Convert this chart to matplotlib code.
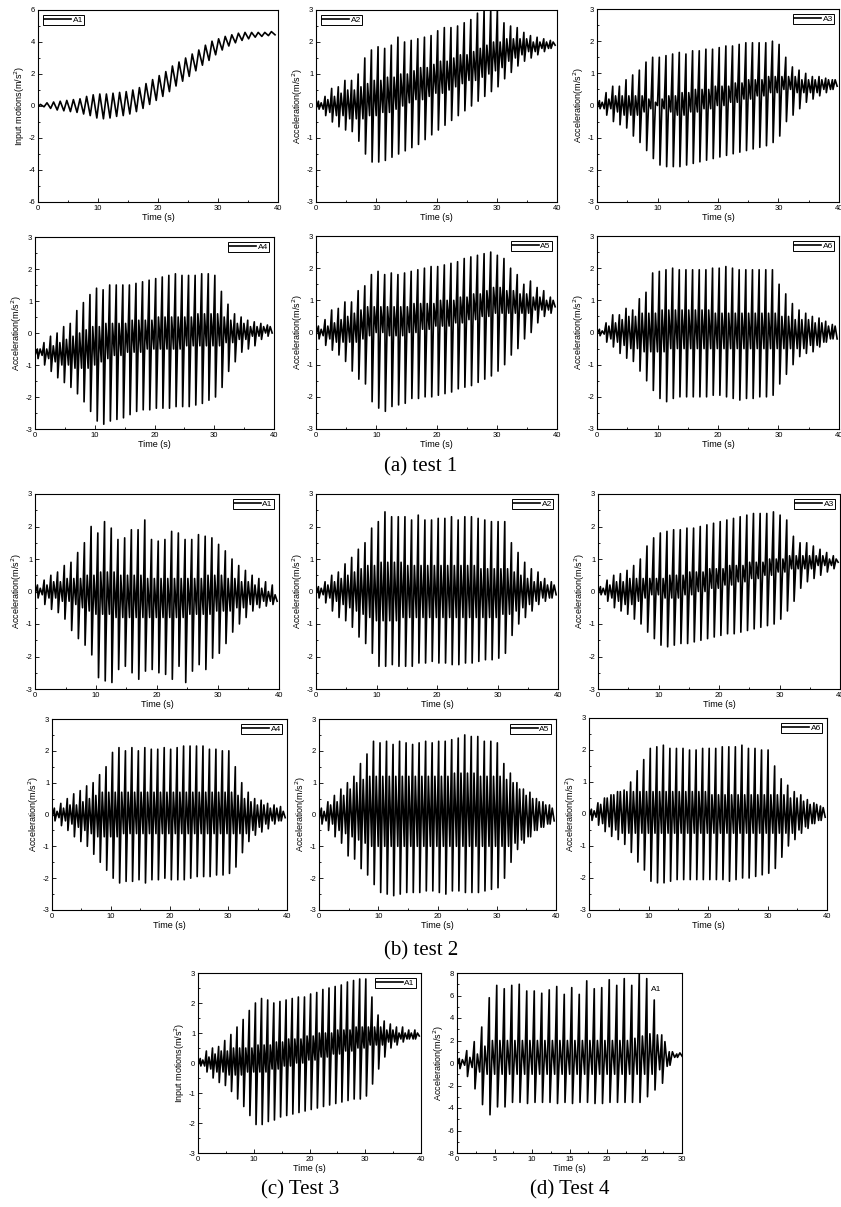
import numpy as np
import matplotlib
matplotlib.use("Agg")
import matplotlib.pyplot as plt
from matplotlib.ticker import MultipleLocator

plt.rcParams['font.family'] = ['Liberation Sans', 'DejaVu Sans']
plt.rcParams['axes.unicode_minus'] = False

# ---------------- data (per-cycle peak values) ----------------
# 40-s records: one cycle every 1.1 s starting at 0.4 s
T40, START40 = 1.1, 0.4
# test 4: one cycle every 1.0 s starting at 0.3 s
T30, START30 = 1.0, 0.3

# test 1, A1 (input motion)
t1a1_hi = [0.1,0.2,0.25,0.3,0.35,0.4,0.45,0.6,0.7,0.75,0.75,0.8,0.85,0.9,1.0,1.15,1.4,1.65,1.9,2.15,2.5,2.75,3.0,3.25,3.5,3.8,4.05,4.2,4.35,4.45,4.55,4.6,4.6,4.6,4.6,4.65]
t1a1_lo = [-0.05,-0.15,-0.25,-0.3,-0.35,-0.4,-0.5,-0.6,-0.75,-0.8,-0.75,-0.65,-0.6,-0.5,-0.35,-0.15,0.1,0.35,0.6,0.9,1.25,1.55,1.85,2.2,2.55,2.85,3.2,3.5,3.75,3.95,4.1,4.2,4.3,4.35,4.4,4.45]

# test 1, A2
t1a2_hi = [0.15,0.3,0.55,0.6,0.8,0.8,1.0,1.5,1.75,1.85,1.8,1.9,2.15,2.0,2.05,2.1,2.15,2.2,2.35,2.45,2.45,2.5,2.6,2.7,2.9,3.0,3.0,3.0,2.6,2.5,2.45,2.3,2.2,2.15,2.1,2.05]
t1a2_lo = [-0.1,-0.3,-0.5,-0.65,-0.75,-0.8,-1.1,-1.5,-1.75,-1.75,-1.7,-1.6,-1.5,-1.4,-1.3,-1.2,-1.05,-0.9,-0.75,-0.6,-0.45,-0.3,-0.15,0.0,0.15,0.3,0.45,0.6,0.85,1.05,1.25,1.4,1.5,1.6,1.7,1.8]
t1a2_ihi = [0.1,0.2,0.3,0.4,0.5,0.5,0.6,0.7,0.8,0.8,0.9,0.9,1.0,1.0,1.1,1.2,1.2,1.3,1.4,1.4,1.5,1.6,1.6,1.7,1.8,1.9,2.0,2.0,2.1,2.1,2.1,2.1,2.0,2.0,2.0,2.0]
t1a2_ilo = [-0.1,-0.2,-0.3,-0.3,-0.4,-0.4,-0.4,-0.3,-0.3,-0.2,-0.2,-0.1,0.0,0.1,0.2,0.2,0.3,0.4,0.4,0.5,0.6,0.7,0.8,0.8,0.9,1.0,1.1,1.2,1.4,1.5,1.6,1.7,1.7,1.8,1.8,1.9]

# test 1, A3
t1a3_hi = [0.15,0.4,0.6,0.6,0.8,0.95,1.1,1.35,1.5,1.5,1.55,1.6,1.65,1.6,1.7,1.7,1.75,1.75,1.8,1.85,1.85,1.9,1.95,1.95,1.95,1.95,2.0,1.9,1.5,1.2,1.1,1.0,0.9,0.9,0.85,0.8]
t1a3_lo = [-0.1,-0.3,-0.5,-0.6,-0.7,-0.95,-1.15,-1.4,-1.65,-1.85,-1.9,-1.9,-1.9,-1.85,-1.8,-1.75,-1.7,-1.65,-1.6,-1.55,-1.5,-1.45,-1.4,-1.35,-1.3,-1.25,-1.15,-0.95,-0.5,-0.3,-0.1,0.1,0.2,0.3,0.4,0.5]
t1a3_ihi = [0.1,0.2,0.3,0.3,0.3,0.3,0.3,0.2,0.1,0.2,0.3,0.3,0.4,0.4,0.5,0.5,0.5,0.6,0.6,0.6,0.7,0.7,0.8,0.8,0.8,0.9,0.9,0.9,0.9,0.9,0.8,0.8,0.8,0.8,0.8,0.8]
t1a3_ilo = [-0.1,-0.1,-0.2,-0.3,-0.3,-0.3,-0.2,-0.1,0.0,-0.1,-0.2,-0.3,-0.3,-0.2,-0.2,-0.1,-0.1,0.0,0.0,0.1,0.1,0.2,0.2,0.3,0.3,0.4,0.4,0.5,0.5,0.4,0.4,0.4,0.4,0.5,0.5,0.6]

# test 1, A4
t1a4_hi = [-0.5,-0.3,-0.1,0.0,0.2,0.3,0.7,0.95,1.2,1.4,1.35,1.5,1.5,1.5,1.5,1.55,1.6,1.65,1.7,1.75,1.8,1.85,1.8,1.8,1.8,1.85,1.85,1.8,1.3,0.9,0.6,0.5,0.4,0.35,0.3,0.25]
t1a4_lo = [-0.8,-1.0,-1.2,-1.4,-1.55,-1.7,-1.9,-2.15,-2.45,-2.75,-2.85,-2.75,-2.7,-2.65,-2.55,-2.45,-2.4,-2.4,-2.35,-2.35,-2.35,-2.3,-2.3,-2.3,-2.25,-2.2,-2.1,-2.0,-1.7,-1.2,-0.9,-0.6,-0.5,-0.4,-0.2,-0.1]
t1a4_ihi = [-0.5,-0.5,-0.4,-0.3,-0.2,-0.1,0.0,0.1,0.2,0.2,0.3,0.3,0.3,0.3,0.4,0.4,0.4,0.4,0.5,0.5,0.5,0.5,0.5,0.5,0.6,0.6,0.6,0.6,0.5,0.4,0.3,0.3,0.2,0.2,0.2,0.2]
t1a4_ilo = [-0.7,-0.8,-0.9,-1.0,-1.0,-1.1,-1.1,-1.1,-1.0,-0.9,-0.8,-0.7,-0.7,-0.6,-0.6,-0.6,-0.5,-0.5,-0.5,-0.5,-0.5,-0.5,-0.4,-0.4,-0.4,-0.4,-0.4,-0.4,-0.3,-0.3,-0.2,-0.2,-0.1,-0.1,0.0,0.0]

# test 1, A5
t1a5_hi = [0.2,0.4,0.7,0.75,0.95,0.95,1.3,1.45,1.8,1.9,1.8,1.85,1.8,1.85,1.9,1.95,2.0,2.05,2.05,2.1,2.15,2.2,2.3,2.35,2.4,2.45,2.5,2.4,2.3,2.0,1.8,1.5,1.6,1.4,1.3,1.1]
t1a5_lo = [-0.2,-0.4,-0.55,-0.7,-0.9,-1.2,-1.45,-1.6,-2.15,-2.35,-2.45,-2.3,-2.25,-2.2,-2.05,-2.05,-2.0,-2.0,-1.95,-1.9,-1.85,-1.75,-1.7,-1.65,-1.55,-1.45,-1.35,-1.2,-1.0,-0.7,-0.5,-0.2,0.0,0.3,0.5,0.6]
t1a5_ihi = [0.1,0.2,0.3,0.4,0.5,0.6,0.7,0.8,0.8,0.8,0.8,0.8,0.8,0.8,0.9,0.9,0.9,0.9,1.0,1.0,1.0,1.1,1.1,1.2,1.2,1.3,1.4,1.4,1.3,1.3,1.2,1.2,1.1,1.1,1.0,1.0]
t1a5_ilo = [-0.1,-0.2,-0.3,-0.3,-0.3,-0.3,-0.2,-0.1,0.0,0.0,-0.1,-0.1,-0.1,0.0,0.0,0.1,0.1,0.2,0.2,0.2,0.3,0.3,0.4,0.4,0.5,0.5,0.6,0.6,0.6,0.6,0.6,0.6,0.7,0.7,0.7,0.8]

# test 1, A6
t1a6_hi = [0.1,0.3,0.55,0.55,0.75,0.7,1.05,1.25,1.85,1.9,1.95,2.0,1.95,1.95,1.95,1.95,1.95,2.0,2.0,2.05,2.0,1.95,1.95,1.95,1.95,1.95,1.95,1.5,1.2,0.9,0.7,0.6,0.5,0.45,0.35,0.25]
t1a6_lo = [-0.1,-0.3,-0.45,-0.65,-0.8,-0.9,-1.2,-1.5,-1.8,-2.05,-2.15,-2.05,-2.0,-2.0,-2.0,-2.0,-2.0,-1.95,-1.95,-2.0,-2.05,-2.1,-2.05,-2.05,-2.0,-2.0,-1.95,-1.6,-1.3,-1.0,-0.75,-0.65,-0.6,-0.45,-0.3,-0.2]
t1a6_ihi = [0.05,0.2,0.3,0.4,0.5,0.5,0.6,0.6,0.6,0.7,0.7,0.7,0.7,0.7,0.7,0.7,0.7,0.6,0.6,0.6,0.6,0.6,0.6,0.6,0.6,0.6,0.6,0.5,0.5,0.4,0.4,0.4,0.3,0.3,0.2,0.2]
t1a6_ilo = [-0.05,-0.2,-0.3,-0.4,-0.5,-0.5,-0.6,-0.6,-0.6,-0.6,-0.5,-0.5,-0.5,-0.5,-0.5,-0.5,-0.5,-0.5,-0.5,-0.5,-0.5,-0.5,-0.5,-0.5,-0.5,-0.5,-0.5,-0.5,-0.5,-0.5,-0.5,-0.4,-0.4,-0.3,-0.2,-0.2]

# test 2, A1
t2a1_hi = [0.2,0.35,0.5,0.6,0.8,0.9,1.2,1.5,2.0,1.8,2.15,1.95,1.6,1.65,1.9,1.9,2.2,1.6,1.55,1.6,1.85,1.8,1.6,1.6,1.75,1.7,1.65,1.45,1.25,1.0,0.8,0.65,0.5,0.4,0.3,0.2]
t2a1_lo = [-0.2,-0.4,-0.55,-0.65,-0.85,-1.2,-1.45,-1.65,-1.95,-2.65,-2.75,-2.8,-2.4,-2.3,-2.5,-2.7,-2.45,-2.4,-2.5,-2.55,-2.7,-2.3,-2.8,-2.45,-2.25,-2.4,-2.05,-1.9,-1.6,-1.25,-1.0,-0.8,-0.6,-0.5,-0.45,-0.4]
t2a1_ihi = [0.1,0.2,0.3,0.3,0.4,0.4,0.4,0.5,0.5,0.6,0.6,0.6,0.5,0.5,0.5,0.5,0.4,0.4,0.4,0.4,0.4,0.4,0.4,0.4,0.4,0.5,0.5,0.5,0.4,0.4,0.3,0.3,0.2,0.1,0.0,-0.1]
t2a1_ilo = [-0.1,-0.2,-0.2,-0.3,-0.3,-0.4,-0.5,-0.6,-0.7,-0.7,-0.7,-0.8,-0.8,-0.8,-0.8,-0.8,-0.8,-0.8,-0.8,-0.8,-0.8,-0.8,-0.7,-0.7,-0.7,-0.7,-0.6,-0.6,-0.6,-0.5,-0.5,-0.4,-0.4,-0.3,-0.3,-0.3]

# test 2, A2
t2a2_hi = [0.15,0.3,0.5,0.6,0.85,1.05,1.3,1.5,1.95,2.15,2.45,2.3,2.3,2.3,2.2,2.35,2.2,2.2,2.25,2.25,2.3,2.2,2.3,2.3,2.25,2.2,2.15,2.15,2.15,1.5,1.2,0.9,0.7,0.6,0.4,0.3]
t2a2_lo = [-0.2,-0.35,-0.6,-0.8,-0.9,-1.1,-1.4,-1.6,-1.9,-2.3,-2.3,-2.25,-2.3,-2.3,-2.3,-2.2,-2.2,-2.15,-2.2,-2.2,-2.25,-2.25,-2.2,-2.2,-2.15,-2.1,-2.1,-2.05,-1.9,-1.35,-1.0,-0.8,-0.6,-0.4,-0.3,-0.2]
t2a2_ihi = [0.1,0.2,0.3,0.4,0.5,0.6,0.7,0.8,0.8,0.9,0.9,0.9,0.9,0.8,0.8,0.8,0.8,0.8,0.8,0.8,0.8,0.8,0.8,0.8,0.7,0.7,0.7,0.7,0.7,0.6,0.5,0.4,0.3,0.3,0.2,0.2]
t2a2_ilo = [-0.1,-0.2,-0.3,-0.4,-0.5,-0.6,-0.7,-0.8,-0.9,-0.9,-0.9,-0.9,-0.8,-0.8,-0.8,-0.8,-0.8,-0.8,-0.8,-0.8,-0.8,-0.8,-0.8,-0.8,-0.8,-0.8,-0.8,-0.7,-0.7,-0.6,-0.5,-0.4,-0.3,-0.2,-0.2,-0.1]

# test 2, A3
t2a3_hi = [0.15,0.35,0.5,0.55,0.65,0.8,1.0,1.4,1.65,1.8,1.85,1.9,1.9,1.95,1.95,2.0,2.05,2.1,2.15,2.2,2.25,2.3,2.35,2.4,2.4,2.4,2.45,2.35,2.2,1.7,1.5,1.5,1.4,1.3,1.2,1.1]
t2a3_lo = [-0.1,-0.3,-0.5,-0.6,-0.7,-0.85,-1.0,-1.25,-1.45,-1.65,-1.7,-1.65,-1.6,-1.6,-1.55,-1.5,-1.45,-1.4,-1.35,-1.3,-1.3,-1.25,-1.2,-1.15,-1.1,-1.05,-1.0,-0.85,-0.6,-0.3,0.1,0.3,0.4,0.5,0.6,0.7]
t2a3_ihi = [0.1,0.2,0.3,0.3,0.4,0.4,0.4,0.4,0.4,0.4,0.5,0.5,0.5,0.6,0.6,0.6,0.7,0.7,0.7,0.8,0.8,0.8,0.9,0.9,0.9,1.0,1.0,1.0,1.1,1.1,1.1,1.1,1.1,1.1,1.0,1.0]
t2a3_ilo = [-0.1,-0.2,-0.3,-0.4,-0.4,-0.3,-0.2,-0.1,-0.1,-0.2,-0.2,-0.2,-0.1,-0.1,0.0,0.0,0.1,0.1,0.2,0.2,0.3,0.3,0.4,0.4,0.5,0.5,0.6,0.6,0.7,0.7,0.7,0.7,0.8,0.8,0.8,0.9]

# test 2, A4
t2a4_hi = [0.2,0.35,0.5,0.65,0.75,0.9,1.0,1.25,1.5,1.95,2.1,2.0,2.1,2.0,2.1,2.05,2.05,2.1,2.05,2.1,2.15,2.15,2.15,2.15,2.05,2.05,2.0,2.0,1.5,1.0,0.7,0.5,0.45,0.35,0.3,0.25]
t2a4_lo = [-0.2,-0.35,-0.5,-0.7,-0.85,-1.0,-1.25,-1.5,-1.75,-2.0,-2.15,-2.1,-2.1,-2.05,-2.15,-2.05,-2.05,-2.0,-2.05,-2.05,-2.05,-2.0,-1.95,-1.95,-1.95,-1.9,-1.9,-1.85,-1.65,-1.2,-0.85,-0.65,-0.55,-0.45,-0.3,-0.2]
t2a4_ihi = [0.1,0.2,0.3,0.3,0.4,0.5,0.6,0.7,0.7,0.7,0.7,0.7,0.7,0.7,0.7,0.7,0.7,0.7,0.7,0.7,0.7,0.7,0.7,0.7,0.7,0.7,0.7,0.7,0.6,0.5,0.4,0.3,0.3,0.2,0.2,0.1]
t2a4_ilo = [-0.1,-0.2,-0.3,-0.4,-0.5,-0.6,-0.7,-0.7,-0.7,-0.7,-0.6,-0.6,-0.6,-0.6,-0.6,-0.6,-0.6,-0.6,-0.6,-0.6,-0.6,-0.6,-0.6,-0.6,-0.6,-0.6,-0.6,-0.6,-0.6,-0.6,-0.5,-0.4,-0.3,-0.2,-0.2,-0.1]

# test 2, A5
t2a5_hi = [0.2,0.4,0.6,0.8,1.0,1.2,1.6,1.9,2.3,2.25,2.3,2.2,2.3,2.25,2.2,2.25,2.3,2.25,2.3,2.3,2.35,2.4,2.5,2.45,2.45,2.3,2.3,2.25,1.6,1.3,1.0,0.8,0.7,0.5,0.4,0.3]
t2a5_lo = [-0.3,-0.5,-0.7,-0.9,-1.3,-1.4,-1.7,-1.9,-2.2,-2.45,-2.5,-2.55,-2.5,-2.45,-2.45,-2.45,-2.4,-2.4,-2.45,-2.5,-2.4,-2.4,-2.45,-2.45,-2.45,-2.4,-2.35,-2.3,-2.0,-1.5,-1.1,-0.9,-0.7,-0.5,-0.4,-0.3]
t2a5_ihi = [0.1,0.3,0.4,0.6,0.8,1.0,1.1,1.2,1.2,1.2,1.2,1.2,1.2,1.2,1.2,1.2,1.2,1.2,1.2,1.2,1.3,1.3,1.3,1.3,1.2,1.2,1.2,1.2,1.1,1.0,0.8,0.6,0.5,0.4,0.3,0.2]
t2a5_ilo = [-0.2,-0.3,-0.5,-0.6,-0.7,-0.8,-0.9,-1.0,-1.0,-1.0,-1.0,-1.0,-1.0,-1.0,-1.0,-1.0,-1.0,-1.0,-1.0,-1.0,-1.0,-1.0,-1.0,-1.0,-1.0,-1.0,-1.0,-1.0,-1.0,-0.9,-0.8,-0.7,-0.5,-0.4,-0.3,-0.2]

# test 2, A6
t2a6_hi = [0.15,0.35,0.5,0.6,0.7,0.75,1.0,1.35,1.7,2.05,2.1,2.15,2.05,2.05,2.05,2.0,2.0,2.05,2.05,2.05,2.1,2.1,2.1,2.15,2.05,2.05,2.0,2.0,1.5,1.1,0.9,0.7,0.6,0.45,0.35,0.25]
t2a6_lo = [-0.2,-0.35,-0.55,-0.7,-0.8,-0.95,-1.2,-1.5,-1.75,-2.1,-2.15,-2.15,-2.1,-2.05,-2.05,-2.05,-2.05,-2.05,-2.05,-2.05,-2.05,-2.1,-2.05,-2.0,-2.0,-1.95,-1.9,-1.85,-1.7,-1.35,-1.0,-0.8,-0.6,-0.45,-0.3,-0.2]
t2a6_ihi = [0.1,0.3,0.5,0.6,0.7,0.7,0.7,0.7,0.7,0.7,0.7,0.7,0.7,0.7,0.7,0.7,0.7,0.7,0.6,0.6,0.6,0.6,0.6,0.6,0.6,0.6,0.6,0.6,0.6,0.6,0.5,0.5,0.4,0.3,0.3,0.2]
t2a6_ilo = [-0.1,-0.3,-0.4,-0.5,-0.6,-0.6,-0.6,-0.6,-0.6,-0.6,-0.6,-0.6,-0.6,-0.6,-0.6,-0.6,-0.6,-0.6,-0.6,-0.6,-0.6,-0.6,-0.6,-0.6,-0.6,-0.6,-0.6,-0.6,-0.6,-0.6,-0.6,-0.5,-0.4,-0.3,-0.2,-0.1]

# test 3, A1
t3a1_hi = [0.15,0.4,0.5,0.55,0.75,0.95,1.2,1.45,1.75,2.0,2.15,2.1,2.0,2.05,2.1,2.15,2.2,2.2,2.3,2.35,2.45,2.5,2.55,2.6,2.7,2.75,2.8,2.8,2.2,1.6,1.4,1.3,1.2,1.2,1.1,1.1]
t3a1_lo = [-0.1,-0.3,-0.5,-0.65,-0.75,-0.95,-1.2,-1.45,-1.75,-2.05,-2.05,-1.95,-1.9,-1.8,-1.75,-1.7,-1.65,-1.6,-1.55,-1.5,-1.45,-1.4,-1.35,-1.3,-1.25,-1.2,-1.2,-1.1,-0.7,-0.2,0.2,0.5,0.6,0.7,0.8,0.8]
t3a1_ihi = [0.1,0.2,0.3,0.4,0.4,0.5,0.5,0.5,0.5,0.6,0.6,0.6,0.7,0.7,0.8,0.8,0.8,0.9,0.9,1.0,1.0,1.0,1.1,1.1,1.1,1.2,1.2,1.2,1.2,1.2,1.1,1.1,1.0,1.0,1.0,1.0]
t3a1_ilo = [-0.1,-0.2,-0.3,-0.3,-0.4,-0.4,-0.4,-0.3,-0.3,-0.3,-0.3,-0.2,-0.2,-0.1,-0.1,0.0,0.0,0.1,0.1,0.2,0.2,0.3,0.3,0.4,0.4,0.5,0.5,0.6,0.6,0.6,0.7,0.7,0.8,0.8,0.8,0.9]

# test 4, A1
t4a1_hi = [0.4,1.1,1.9,3.2,5.8,6.9,6.6,6.9,7.0,6.4,6.4,6.2,6.5,6.8,6.1,6.7,6.1,7.3,6.6,6.7,7.4,6.9,7.5,6.9,7.9,7.5,5.6,2.5,1.0,0.8]
t4a1_lo = [-0.5,-1.2,-2.3,-3.7,-4.6,-3.9,-3.9,-3.5,-3.5,-3.6,-3.5,-3.5,-3.5,-3.6,-3.5,-3.6,-3.5,-3.5,-3.6,-3.6,-3.5,-3.5,-3.5,-3.5,-3.5,-3.0,-2.4,-1.8,-0.2,0.5]
t4a1_ihi = [0.3,0.5,0.8,1.5,2.0,2.0,2.0,2.0,2.0,2.0,2.0,2.0,2.0,2.0,2.0,2.0,2.0,2.0,2.0,2.0,2.0,2.0,2.0,2.2,2.4,2.6,2.5,1.9,1.0,0.9]
t4a1_ilo = [-0.2,-0.4,-0.8,-1.0,-1.0,-1.0,-1.0,-1.0,-1.0,-1.0,-1.0,-1.0,-1.0,-1.0,-1.0,-1.0,-1.0,-1.0,-1.0,-1.0,-1.0,-1.0,-1.0,-1.0,-1.0,-1.0,-0.6,-0.3,0.5,0.6]

captions = ["(a) test 1", "(b) test 2", "(c) Test 3", "(d) Test 4"]

# ---------------- drawing ----------------
W, H = 841, 1207
fig = plt.figure(figsize=(W / 100, H / 100), dpi=100)


def add_ax(l, t, r, b):
    return fig.add_axes([l / W, 1 - b / H, (r - l) / W, (b - t) / H])


def cycle_path(start, period, hi, lo, ihi=None, ilo=None):
    n = len(hi)
    tk = start + period * np.arange(n)
    if ihi is None:
        offs = np.array([0.0, 0.55]) * period
        vals = np.column_stack([hi, lo])
    else:
        offs = np.array([0.0, 0.1, 0.42, 0.72]) * period
        vals = np.column_stack([hi, lo, ihi, ilo])
    x = (tk[:, None] + offs[None, :]).ravel()
    y = vals.ravel()
    first = lo[0] if ihi is None else ilo[0]
    return np.r_[0.0, x], np.r_[first, y]


def style(ax, xmax, xstep, ylim, ystep, ylabel, leg=None, legloc='upper right'):
    ax.set_xlim(0, xmax)
    ax.set_ylim(*ylim)
    ax.xaxis.set_major_locator(MultipleLocator(xstep))
    ax.xaxis.set_minor_locator(MultipleLocator(xstep / 2))
    ax.yaxis.set_major_locator(MultipleLocator(ystep))
    ax.yaxis.set_minor_locator(MultipleLocator(ystep / 2))
    ax.tick_params(which='both', direction='in', top=False, right=False,
                   labelsize=5.5, pad=2, width=0.6)
    ax.tick_params(which='major', length=3)
    ax.tick_params(which='minor', length=1.6)
    for s in ax.spines.values():
        s.set_linewidth(0.8)
    ax.set_xlabel("Time (s)", fontsize=6.5, labelpad=1)
    ax.set_ylabel(ylabel, fontsize=6.5, labelpad=1)
    if leg is not None:
        lg = ax.legend(loc=legloc, fontsize=6, handlelength=3.2, handletextpad=0.2,
                       borderpad=0.15, borderaxespad=0.6, fancybox=False,
                       framealpha=1, edgecolor='black')
        lg.get_frame().set_linewidth(0.7)


ACC = "Acceleration(m/s$^2$)"
INP = "Input motions(m/s$^2$)"

panels = [
    # box, data, ylim, ystep, ylabel, label, legend loc
    ((38, 10, 278, 202), (t1a1_hi, t1a1_lo, None, None), (-6, 6), 2, INP, "A1", 'upper left'),
    ((316, 10, 557, 202), (t1a2_hi, t1a2_lo, t1a2_ihi, t1a2_ilo), (-3, 3), 1, ACC, "A2", 'upper left'),
    ((597, 9, 839, 202), (t1a3_hi, t1a3_lo, t1a3_ihi, t1a3_ilo), (-3, 3), 1, ACC, "A3", 'upper right'),
    ((35, 237, 274, 429), (t1a4_hi, t1a4_lo, t1a4_ihi, t1a4_ilo), (-3, 3), 1, ACC, "A4", 'upper right'),
    ((316, 236, 557, 429), (t1a5_hi, t1a5_lo, t1a5_ihi, t1a5_ilo), (-3, 3), 1, ACC, "A5", 'upper right'),
    ((597, 236, 839, 429), (t1a6_hi, t1a6_lo, t1a6_ihi, t1a6_ilo), (-3, 3), 1, ACC, "A6", 'upper right'),
    ((35, 494, 279, 689), (t2a1_hi, t2a1_lo, t2a1_ihi, t2a1_ilo), (-3, 3), 1, ACC, "A1", 'upper right'),
    ((316, 494, 558, 689), (t2a2_hi, t2a2_lo, t2a2_ihi, t2a2_ilo), (-3, 3), 1, ACC, "A2", 'upper right'),
    ((598, 494, 840, 689), (t2a3_hi, t2a3_lo, t2a3_ihi, t2a3_ilo), (-3, 3), 1, ACC, "A3", 'upper right'),
    ((52, 719, 287, 910), (t2a4_hi, t2a4_lo, t2a4_ihi, t2a4_ilo), (-3, 3), 1, ACC, "A4", 'upper right'),
    ((319, 719, 556, 910), (t2a5_hi, t2a5_lo, t2a5_ihi, t2a5_ilo), (-3, 3), 1, ACC, "A5", 'upper right'),
    ((589, 718, 827, 910), (t2a6_hi, t2a6_lo, t2a6_ihi, t2a6_ilo), (-3, 3), 1, ACC, "A6", 'upper right'),
    ((198, 973, 421, 1153), (t3a1_hi, t3a1_lo, t3a1_ihi, t3a1_ilo), (-3, 3), 1, INP, "A1", 'upper right'),
]

for box, (hi, lo, ihi, ilo), ylim, ystep, ylab, lab, loc in panels:
    ax = add_ax(*box)
    x, y = cycle_path(START40, T40, hi, lo, ihi, ilo)
    ax.plot(x, y, color='black', lw=1.2, label=lab)
    style(ax, 40, 10, ylim, ystep, ylab, leg=lab, legloc=loc)

# test 4
ax = add_ax(457, 973, 682, 1153)
x, y = cycle_path(START30, T30, t4a1_hi, t4a1_lo, t4a1_ihi, t4a1_ilo)
ax.plot(x, y, color='black', lw=1.2)
style(ax, 30, 5, (-8, 8), 2, ACC)
ax.text(0.86, 0.93, "A1", transform=ax.transAxes, fontsize=6, va='top', ha='left')

cap_kw = dict(fontsize=15, family=['Liberation Serif', 'DejaVu Serif'], ha='center', va='center')
fig.text(421 / W, 1 - 467 / H, captions[0], **cap_kw)
fig.text(421 / W, 1 - 951 / H, captions[1], **cap_kw)
fig.text(300 / W, 1 - 1190 / H, captions[2], **cap_kw)
fig.text(570 / W, 1 - 1190 / H, captions[3], **cap_kw)

fig.savefig("out.png", dpi=100)
